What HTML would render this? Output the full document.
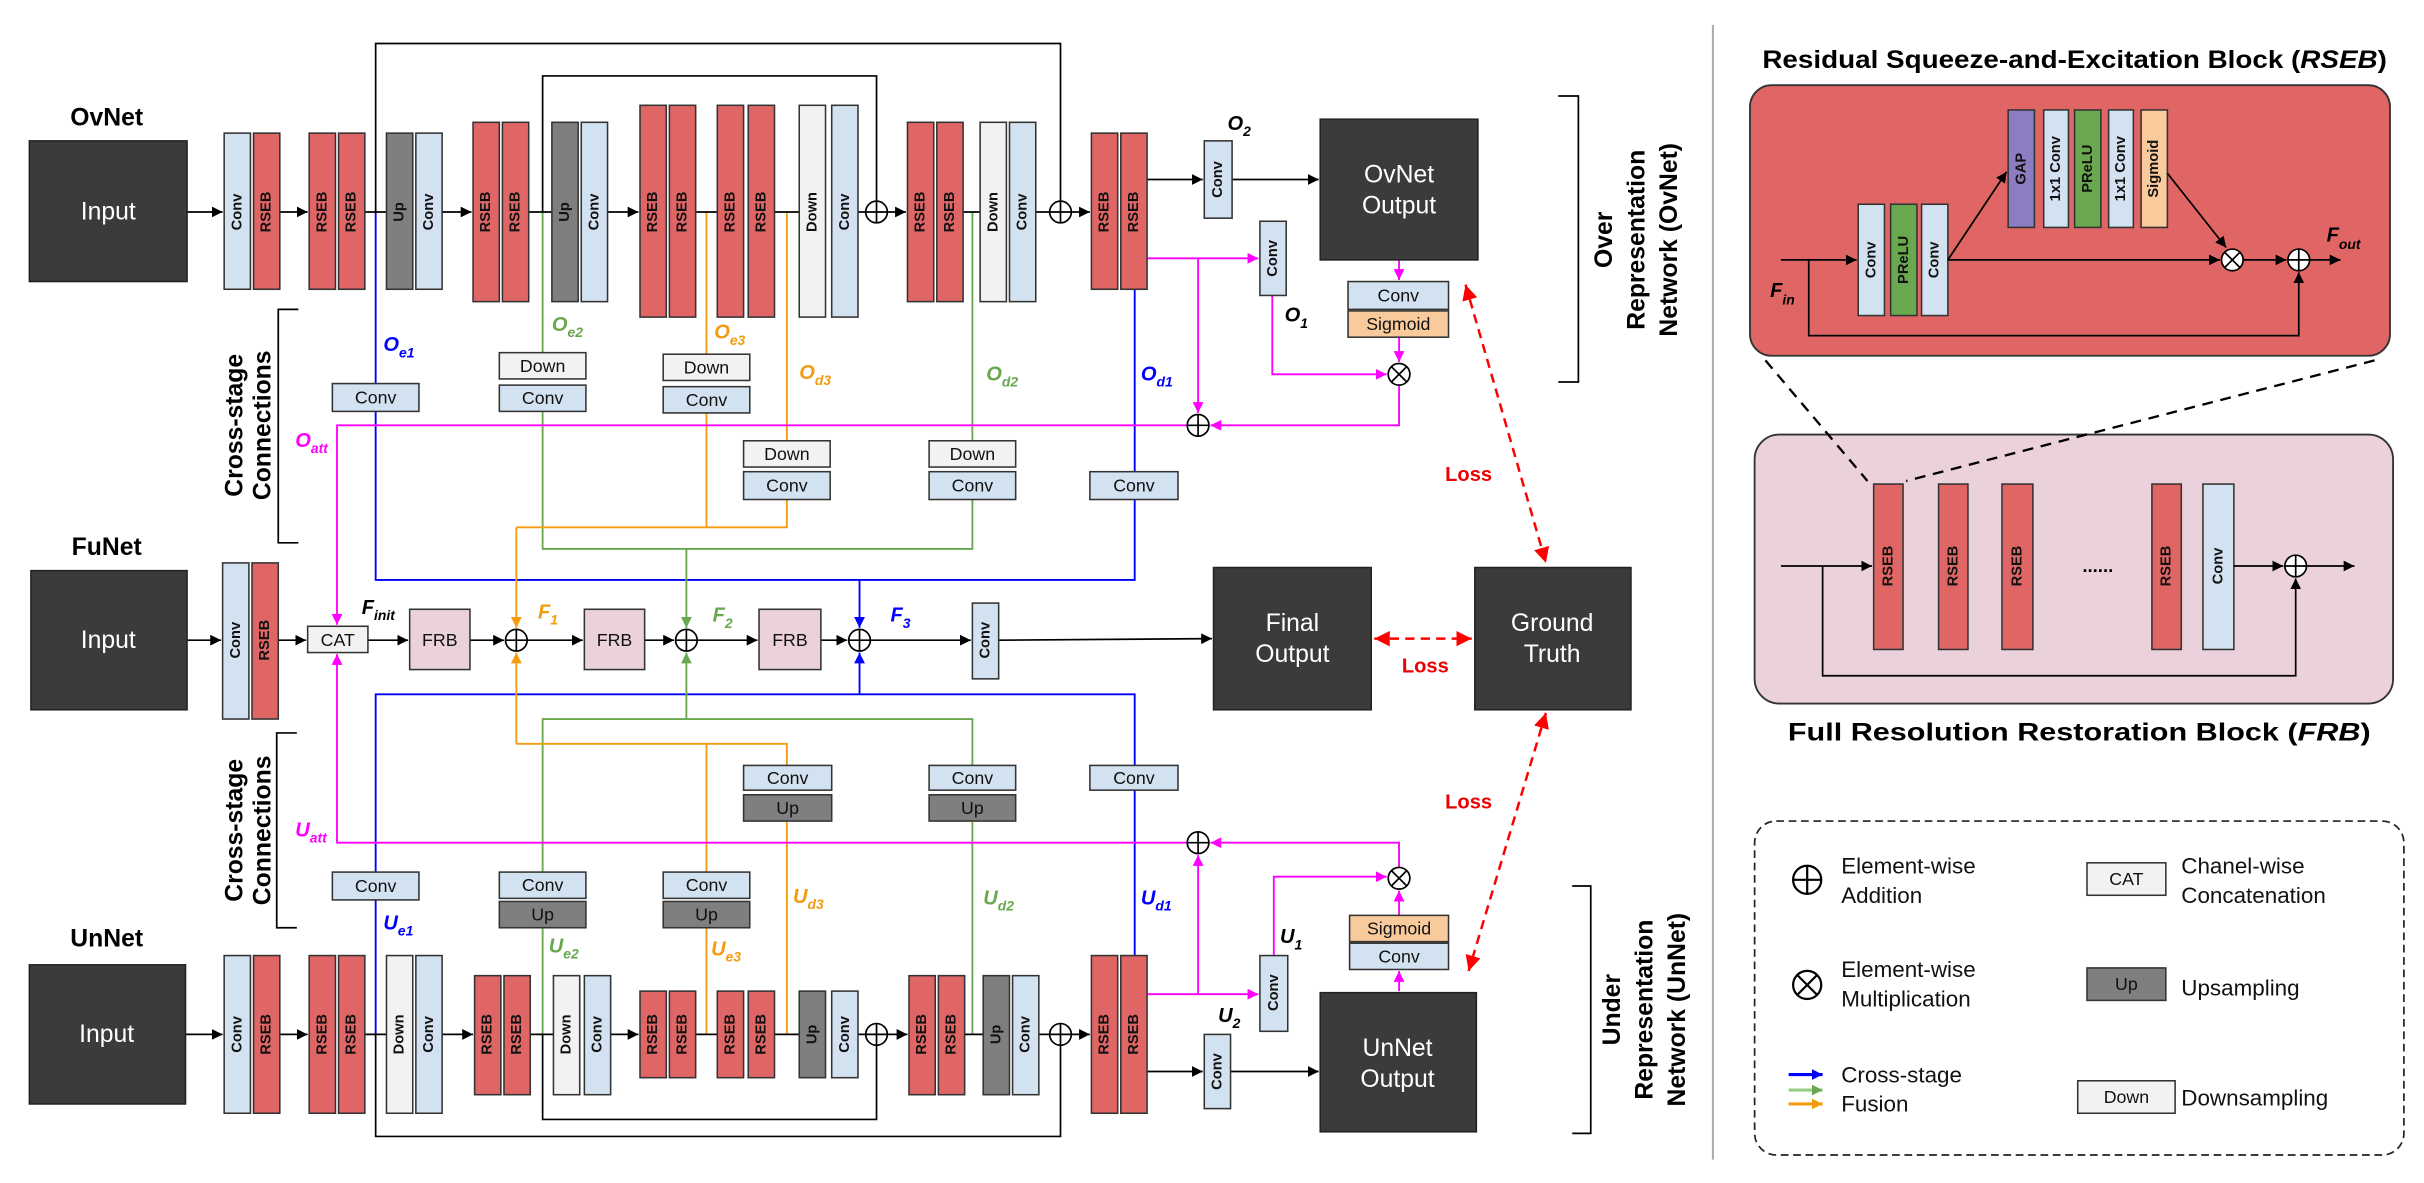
<!DOCTYPE html>
<html><head><meta charset="utf-8"><style>
html,body{margin:0;padding:0;background:#fff}
svg{display:block}
text{font-family:"Liberation Sans",Arial,sans-serif}
.c{fill:#d3e2f0;stroke:#333;stroke-width:1}
.r{fill:#e06666;stroke:#333;stroke-width:1}
.u{fill:#7f7f7f;stroke:#333;stroke-width:1}
.d{fill:#f2f2f2;stroke:#333;stroke-width:1}
.s{fill:#f9cb9c;stroke:#333;stroke-width:1}
.g{fill:#6aa84f;stroke:#333;stroke-width:1}
.p{fill:#8e7cc3;stroke:#333;stroke-width:1}
.f{fill:#ead1dc;stroke:#333;stroke-width:1}
.dk{fill:#3b3b3b;stroke:#222;stroke-width:1}
.vt{font-weight:bold;font-size:9.5px;text-anchor:middle;dominant-baseline:central;fill:#111}
.ht{font-size:11.5px;text-anchor:middle;dominant-baseline:central;fill:#111}
.wt{font-size:16px;text-anchor:middle;fill:#fff}
.lb{font-weight:bold;font-style:italic;font-size:13px}
.lb tspan{font-size:9px}
.ln{fill:none;stroke:#000;stroke-width:1.1}
.m{fill:none;stroke:#ff00ff;stroke-width:1.2}
.o{fill:none;stroke:#f39c12;stroke-width:1.2}
.gr{fill:none;stroke:#6aa84f;stroke-width:1.2}
.b{fill:none;stroke:#0000ff;stroke-width:1.2}
.big{font-weight:bold;font-size:16px;text-anchor:middle}
.lg{font-size:14.5px;fill:#111}
</style></head><body>
<svg width="2424" height="1183" viewBox="0 0 1568 765" xmlns="http://www.w3.org/2000/svg">
<defs>
<marker id="ak" viewBox="0 0 10 10" refX="10" refY="5" markerWidth="7" markerHeight="7" markerUnits="userSpaceOnUse" orient="auto"><path d="M0,0L10,5L0,10z" fill="#000"/></marker>
<marker id="am" viewBox="0 0 10 10" refX="10" refY="5" markerWidth="7" markerHeight="7" markerUnits="userSpaceOnUse" orient="auto"><path d="M0,0L10,5L0,10z" fill="#ff00ff"/></marker>
<marker id="ao" viewBox="0 0 10 10" refX="10" refY="5" markerWidth="7" markerHeight="7" markerUnits="userSpaceOnUse" orient="auto"><path d="M0,0L10,5L0,10z" fill="#f39c12"/></marker>
<marker id="ag" viewBox="0 0 10 10" refX="10" refY="5" markerWidth="7" markerHeight="7" markerUnits="userSpaceOnUse" orient="auto"><path d="M0,0L10,5L0,10z" fill="#6aa84f"/></marker>
<marker id="ab" viewBox="0 0 10 10" refX="10" refY="5" markerWidth="7" markerHeight="7" markerUnits="userSpaceOnUse" orient="auto"><path d="M0,0L10,5L0,10z" fill="#0000ff"/></marker>
<marker id="ar" viewBox="0 0 10 10" refX="10" refY="5" markerWidth="10" markerHeight="10" markerUnits="userSpaceOnUse" orient="auto-start-reverse"><path d="M0,0L10,5L0,10z" fill="#ff0000"/></marker>
<g id="plus"><circle r="7" fill="#fff" stroke="#000" stroke-width="1.1"/><path d="M-7,0H7M0,-7V7" stroke="#000" stroke-width="1.1"/></g>
<g id="times"><circle r="7" fill="#fff" stroke="#000" stroke-width="1.1"/><path d="M-5,-5L5,5M5,-5L-5,5" stroke="#000" stroke-width="1.1"/></g>
</defs>

<path class="ln" d="M243,137V28H686V130"/>
<path class="ln" d="M351,137V49H567V130"/>
<path class="ln" d="M243,669V735H686V676"/>
<path class="ln" d="M351,669V724H567V676"/>

<path class="b" d="M243,137V248M243,266V375H734V323M734,305V187"/>
<path class="b" d="M556,375V406" marker-end="url(#ab)"/>
<path class="gr" d="M351,137V228M351,266V355H629V323M629,285V137"/>
<path class="gr" d="M444,355V406" marker-end="url(#ag)"/>
<path class="o" d="M457,137V229M457,266V341M509,137V285M509,323V341H334"/>
<path class="o" d="M334,341V406" marker-end="url(#ao)"/>
<path class="b" d="M243,669V582M243,564V449H734V495M734,511V618"/>
<path class="b" d="M556,449V422" marker-end="url(#ab)"/>
<path class="gr" d="M351,669V600M351,564V465H629V495M629,531V669"/>
<path class="gr" d="M444,465V422" marker-end="url(#ag)"/>
<path class="o" d="M457,669V600M457,564V481M509,669V531M509,495V481H334"/>
<path class="o" d="M334,481V422" marker-end="url(#ao)"/>

<path class="m" d="M769,275H218V404" marker-end="url(#am)"/>
<path class="m" d="M769,545H218V423" marker-end="url(#am)"/>
<path class="m" d="M742,167H814" marker-end="url(#am)"/>
<path class="m" d="M775,167V267" marker-end="url(#am)"/>
<path class="m" d="M823,191V242H897" marker-end="url(#am)"/>
<path class="m" d="M905,168V181" marker-end="url(#am)"/>
<path class="m" d="M905,218V234" marker-end="url(#am)"/>
<path class="m" d="M905,249V275H783" marker-end="url(#am)"/>
<path class="m" d="M742,643H814" marker-end="url(#am)"/>
<path class="m" d="M775,643V553" marker-end="url(#am)"/>
<path class="m" d="M824,618V567H897" marker-end="url(#am)"/>
<path class="m" d="M905,641V628" marker-end="url(#am)"/>
<path class="m" d="M905,592V576" marker-end="url(#am)"/>
<path class="m" d="M905,561V545H783" marker-end="url(#am)"/>

<g class="ln">
<path d="M121,137H144" marker-end="url(#ak)"/>
<path d="M181,137H199" marker-end="url(#ak)"/>
<path d="M236,137H250M286,137H305" marker-end="url(#ak)"/>
<path d="M342,137H357M393,137H413" marker-end="url(#ak)"/>
<path d="M450,137H464M500,137H517M554,137H560"/>
<path d="M574,137H586" marker-end="url(#ak)"/>
<path d="M623,137H634M670,137H679"/>
<path d="M693,137H705" marker-end="url(#ak)"/>
<path d="M742,116H778" marker-end="url(#ak)"/>
<path d="M797,116H853" marker-end="url(#ak)"/>
<path d="M120,669H144" marker-end="url(#ak)"/>
<path d="M181,669H199" marker-end="url(#ak)"/>
<path d="M236,669H250M286,669H306" marker-end="url(#ak)"/>
<path d="M343,669H358M395,669H413" marker-end="url(#ak)"/>
<path d="M450,669H464M500,669H517M554,669H560"/>
<path d="M574,669H587" marker-end="url(#ak)"/>
<path d="M624,669H636M672,669H679"/>
<path d="M693,669H705" marker-end="url(#ak)"/>
<path d="M742,693H778" marker-end="url(#ak)"/>
<path d="M796,693H853" marker-end="url(#ak)"/>
<path d="M121,414H143" marker-end="url(#ak)"/>
<path d="M180,414H198" marker-end="url(#ak)"/>
<path d="M238,414H264" marker-end="url(#ak)"/>
<path d="M304,414H326" marker-end="url(#ak)"/>
<path d="M341,414H377" marker-end="url(#ak)"/>
<path d="M417,414H436" marker-end="url(#ak)"/>
<path d="M451,414H490" marker-end="url(#ak)"/>
<path d="M531,414H548" marker-end="url(#ak)"/>
<path d="M563,414H628" marker-end="url(#ak)"/>
<path d="M646,414L784,413" marker-end="url(#ak)"/>
</g>

<g>
<rect class="c" x="145" y="86" width="17" height="101"/><text class="vt" transform="translate(153.5,137) rotate(-90)">Conv</text>
<rect class="r" x="164" y="86" width="17" height="101"/><text class="vt" transform="translate(172.5,137) rotate(-90)">RSEB</text>
<rect class="r" x="200" y="86" width="17" height="101"/><text class="vt" transform="translate(208.5,137) rotate(-90)">RSEB</text>
<rect class="r" x="219" y="86" width="17" height="101"/><text class="vt" transform="translate(227.5,137) rotate(-90)">RSEB</text>
<rect class="u" x="250" y="86" width="17" height="101"/><text class="vt" transform="translate(258.5,137) rotate(-90)">Up</text>
<rect class="c" x="269" y="86" width="17" height="101"/><text class="vt" transform="translate(277.5,137) rotate(-90)">Conv</text>
<rect class="r" x="306" y="79" width="17" height="116"/><text class="vt" transform="translate(314.5,137) rotate(-90)">RSEB</text>
<rect class="r" x="325" y="79" width="17" height="116"/><text class="vt" transform="translate(333.5,137) rotate(-90)">RSEB</text>
<rect class="u" x="357" y="79" width="17" height="116"/><text class="vt" transform="translate(365.5,137) rotate(-90)">Up</text>
<rect class="c" x="376" y="79" width="17" height="116"/><text class="vt" transform="translate(384.5,137) rotate(-90)">Conv</text>
<rect class="r" x="414" y="68" width="17" height="137"/><text class="vt" transform="translate(422.5,137) rotate(-90)">RSEB</text>
<rect class="r" x="433" y="68" width="17" height="137"/><text class="vt" transform="translate(441.5,137) rotate(-90)">RSEB</text>
<rect class="r" x="464" y="68" width="17" height="137"/><text class="vt" transform="translate(472.5,137) rotate(-90)">RSEB</text>
<rect class="r" x="484" y="68" width="17" height="137"/><text class="vt" transform="translate(492.5,137) rotate(-90)">RSEB</text>
<rect class="d" x="517" y="68" width="17" height="137"/><text class="vt" transform="translate(525.5,137) rotate(-90)">Down</text>
<rect class="c" x="538" y="68" width="17" height="137"/><text class="vt" transform="translate(546.5,137) rotate(-90)">Conv</text>
<rect class="r" x="587" y="79" width="17" height="116"/><text class="vt" transform="translate(595.5,137) rotate(-90)">RSEB</text>
<rect class="r" x="606" y="79" width="17" height="116"/><text class="vt" transform="translate(614.5,137) rotate(-90)">RSEB</text>
<rect class="d" x="634" y="79" width="17" height="116"/><text class="vt" transform="translate(642.5,137) rotate(-90)">Down</text>
<rect class="c" x="653" y="79" width="17" height="116"/><text class="vt" transform="translate(661.5,137) rotate(-90)">Conv</text>
<rect class="r" x="706" y="86" width="17" height="101"/><text class="vt" transform="translate(714.5,137) rotate(-90)">RSEB</text>
<rect class="r" x="725" y="86" width="17" height="101"/><text class="vt" transform="translate(733.5,137) rotate(-90)">RSEB</text>
<use href="#plus" x="567" y="137"/><use href="#plus" x="686" y="137"/>
<rect class="c" x="779" y="91" width="18" height="50"/><text class="vt" transform="translate(788,116) rotate(-90)">Conv</text>
<rect class="c" x="815" y="143" width="17" height="48"/><text class="vt" transform="translate(823.5,167) rotate(-90)">Conv</text>
</g>

<g>
<rect class="c" x="145" y="618" width="17" height="102"/><text class="vt" transform="translate(153.5,669) rotate(-90)">Conv</text>
<rect class="r" x="164" y="618" width="17" height="102"/><text class="vt" transform="translate(172.5,669) rotate(-90)">RSEB</text>
<rect class="r" x="200" y="618" width="17" height="102"/><text class="vt" transform="translate(208.5,669) rotate(-90)">RSEB</text>
<rect class="r" x="219" y="618" width="17" height="102"/><text class="vt" transform="translate(227.5,669) rotate(-90)">RSEB</text>
<rect class="d" x="250" y="618" width="17" height="102"/><text class="vt" transform="translate(258.5,669) rotate(-90)">Down</text>
<rect class="c" x="269" y="618" width="17" height="102"/><text class="vt" transform="translate(277.5,669) rotate(-90)">Conv</text>
<rect class="r" x="307" y="631" width="17" height="77"/><text class="vt" transform="translate(315.5,669) rotate(-90)">RSEB</text>
<rect class="r" x="326" y="631" width="17" height="77"/><text class="vt" transform="translate(334.5,669) rotate(-90)">RSEB</text>
<rect class="d" x="358" y="631" width="17" height="77"/><text class="vt" transform="translate(366.5,669) rotate(-90)">Down</text>
<rect class="c" x="378" y="631" width="17" height="77"/><text class="vt" transform="translate(386.5,669) rotate(-90)">Conv</text>
<rect class="r" x="414" y="641" width="17" height="56"/><text class="vt" transform="translate(422.5,669) rotate(-90)">RSEB</text>
<rect class="r" x="433" y="641" width="17" height="56"/><text class="vt" transform="translate(441.5,669) rotate(-90)">RSEB</text>
<rect class="r" x="464" y="641" width="17" height="56"/><text class="vt" transform="translate(472.5,669) rotate(-90)">RSEB</text>
<rect class="r" x="484" y="641" width="17" height="56"/><text class="vt" transform="translate(492.5,669) rotate(-90)">RSEB</text>
<rect class="u" x="517" y="641" width="17" height="56"/><text class="vt" transform="translate(525.5,669) rotate(-90)">Up</text>
<rect class="c" x="538" y="641" width="17" height="56"/><text class="vt" transform="translate(546.5,669) rotate(-90)">Conv</text>
<rect class="r" x="588" y="631" width="17" height="77"/><text class="vt" transform="translate(596.5,669) rotate(-90)">RSEB</text>
<rect class="r" x="607" y="631" width="17" height="77"/><text class="vt" transform="translate(615.5,669) rotate(-90)">RSEB</text>
<rect class="u" x="636" y="631" width="17" height="77"/><text class="vt" transform="translate(644.5,669) rotate(-90)">Up</text>
<rect class="c" x="655" y="631" width="17" height="77"/><text class="vt" transform="translate(663.5,669) rotate(-90)">Conv</text>
<rect class="r" x="706" y="618" width="17" height="102"/><text class="vt" transform="translate(714.5,669) rotate(-90)">RSEB</text>
<rect class="r" x="725" y="618" width="17" height="102"/><text class="vt" transform="translate(733.5,669) rotate(-90)">RSEB</text>
<use href="#plus" x="567" y="669"/><use href="#plus" x="686" y="669"/>
<rect class="c" x="815" y="618" width="18" height="49"/><text class="vt" transform="translate(824,642) rotate(-90)">Conv</text>
<rect class="c" x="779" y="669" width="17" height="48"/><text class="vt" transform="translate(787.5,693) rotate(-90)">Conv</text>
</g>

<rect class="c" x="144" y="364" width="17" height="101"/><text class="vt" transform="translate(152.5,414) rotate(-90)">Conv</text>
<rect class="r" x="163" y="364" width="17" height="101"/><text class="vt" transform="translate(171.5,414) rotate(-90)">RSEB</text>
<rect class="d" x="199" y="405" width="39" height="17"/><text class="ht" x="218.5" y="414">CAT</text>
<rect class="f" x="265" y="394" width="39" height="39"/><text class="ht" x="284.5" y="414">FRB</text>
<rect class="f" x="378" y="394" width="39" height="39"/><text class="ht" x="397.5" y="414">FRB</text>
<rect class="f" x="491" y="394" width="40" height="39"/><text class="ht" x="511" y="414">FRB</text>
<use href="#plus" x="334" y="414"/><use href="#plus" x="444" y="414"/><use href="#plus" x="556" y="414"/>
<rect class="c" x="629" y="390" width="17" height="49"/><text class="vt" transform="translate(637.5,414) rotate(-90)">Conv</text>

<rect class="c" x="215" y="248" width="56" height="18"/><text class="ht" x="243" y="257">Conv</text>
<rect class="d" x="323" y="228" width="56" height="17"/><text class="ht" x="351" y="236.5">Down</text>
<rect class="c" x="323" y="249" width="56" height="17"/><text class="ht" x="351" y="257.5">Conv</text>
<rect class="d" x="429" y="229" width="56" height="17"/><text class="ht" x="457" y="237.5">Down</text>
<rect class="c" x="429" y="250" width="56" height="17"/><text class="ht" x="457" y="258.5">Conv</text>
<rect class="d" x="481" y="285" width="56" height="17"/><text class="ht" x="509" y="293.5">Down</text>
<rect class="c" x="481" y="305" width="56" height="18"/><text class="ht" x="509" y="314">Conv</text>
<rect class="d" x="601" y="285" width="56" height="17"/><text class="ht" x="629" y="293.5">Down</text>
<rect class="c" x="601" y="305" width="56" height="18"/><text class="ht" x="629" y="314">Conv</text>
<rect class="c" x="705" y="305" width="57" height="18"/><text class="ht" x="733.5" y="314">Conv</text>
<rect class="c" x="481" y="495" width="57" height="16"/><text class="ht" x="509.5" y="503">Conv</text>
<rect class="u" x="481" y="514" width="57" height="17"/><text class="ht" x="509.5" y="522.5">Up</text>
<rect class="c" x="601" y="495" width="56" height="16"/><text class="ht" x="629" y="503">Conv</text>
<rect class="u" x="601" y="514" width="56" height="17"/><text class="ht" x="629" y="522.5">Up</text>
<rect class="c" x="705" y="495" width="57" height="16"/><text class="ht" x="733.5" y="503">Conv</text>
<rect class="c" x="215" y="564" width="56" height="18"/><text class="ht" x="243" y="573">Conv</text>
<rect class="c" x="323" y="564" width="56" height="17"/><text class="ht" x="351" y="572.5">Conv</text>
<rect class="u" x="323" y="583" width="56" height="17"/><text class="ht" x="351" y="591.5">Up</text>
<rect class="c" x="429" y="564" width="56" height="17"/><text class="ht" x="457" y="572.5">Conv</text>
<rect class="u" x="429" y="583" width="56" height="17"/><text class="ht" x="457" y="591.5">Up</text>

<rect class="c" x="872" y="182" width="65" height="18"/><text class="ht" x="904.5" y="191">Conv</text>
<rect class="s" x="872" y="201" width="65" height="17"/><text class="ht" x="904.5" y="209.5">Sigmoid</text>
<use href="#times" x="905" y="242"/><use href="#plus" x="775" y="275"/>
<rect class="s" x="873" y="592" width="64" height="17"/><text class="ht" x="905" y="600.5">Sigmoid</text>
<rect class="c" x="873" y="610" width="64" height="17"/><text class="ht" x="905" y="618.5">Conv</text>
<use href="#times" x="905" y="568"/><use href="#plus" x="775" y="545"/>

<rect class="dk" x="19" y="91" width="102" height="91"/><text class="wt" x="70" y="142">Input</text>
<rect class="dk" x="20" y="369" width="101" height="90"/><text class="wt" x="70" y="419">Input</text>
<rect class="dk" x="19" y="624" width="101" height="90"/><text class="wt" x="69" y="674">Input</text>
<rect class="dk" x="854" y="77" width="102" height="91"/><text class="wt" x="905" y="118">OvNet</text><text class="wt" x="905" y="138">Output</text>
<rect class="dk" x="785" y="367" width="102" height="92"/><text class="wt" x="836" y="408">Final</text><text class="wt" x="836" y="428">Output</text>
<rect class="dk" x="954" y="367" width="101" height="92"/><text class="wt" x="1004" y="408">Ground</text><text class="wt" x="1004" y="428">Truth</text>
<rect class="dk" x="854" y="642" width="101" height="90"/><text class="wt" x="904" y="683">UnNet</text><text class="wt" x="904" y="703">Output</text>

<text class="big" x="69" y="81" font-size="17">OvNet</text>
<text class="big" x="69" y="359" font-size="17">FuNet</text>
<text class="big" x="69" y="612" font-size="17">UnNet</text>

<g stroke="#ff0000" stroke-width="1.6" stroke-dasharray="6,4" fill="none">
<path d="M948,184L1000,364" marker-start="url(#ar)" marker-end="url(#ar)"/>
<path d="M889,413H952" marker-start="url(#ar)" marker-end="url(#ar)"/>
<path d="M1000,461L950,628" marker-start="url(#ar)" marker-end="url(#ar)"/>
</g>
<text x="950" y="311" font-size="13" font-weight="bold" fill="#ee0000" text-anchor="middle">Loss</text>
<text x="922" y="435" font-size="13" font-weight="bold" fill="#ee0000" text-anchor="middle">Loss</text>
<text x="950" y="523" font-size="13" font-weight="bold" fill="#ee0000" text-anchor="middle">Loss</text>

<text class="lb" x="248" y="227" fill="#0000ff">O<tspan dy="4">e1</tspan></text>
<text class="lb" x="357" y="214" fill="#6aa84f">O<tspan dy="4">e2</tspan></text>
<text class="lb" x="462" y="219" fill="#f39c12">O<tspan dy="4">e3</tspan></text>
<text class="lb" x="517" y="245" fill="#f39c12">O<tspan dy="4">d3</tspan></text>
<text class="lb" x="638" y="246" fill="#6aa84f">O<tspan dy="4">d2</tspan></text>
<text class="lb" x="738" y="246" fill="#0000ff">O<tspan dy="4">d1</tspan></text>
<text class="lb" x="191" y="289" fill="#ff00ff">O<tspan dy="4">att</tspan></text>
<text class="lb" x="794" y="84" fill="#000">O<tspan dy="4">2</tspan></text>
<text class="lb" x="831" y="208" fill="#000">O<tspan dy="4">1</tspan></text>
<text class="lb" x="248" y="601" fill="#0000ff">U<tspan dy="4">e1</tspan></text>
<text class="lb" x="355" y="616" fill="#6aa84f">U<tspan dy="4">e2</tspan></text>
<text class="lb" x="460" y="618" fill="#f39c12">U<tspan dy="4">e3</tspan></text>
<text class="lb" x="513" y="584" fill="#f39c12">U<tspan dy="4">d3</tspan></text>
<text class="lb" x="636" y="585" fill="#6aa84f">U<tspan dy="4">d2</tspan></text>
<text class="lb" x="738" y="585" fill="#0000ff">U<tspan dy="4">d1</tspan></text>
<text class="lb" x="191" y="541" fill="#ff00ff">U<tspan dy="4">att</tspan></text>
<text class="lb" x="828" y="610" fill="#000">U<tspan dy="4">1</tspan></text>
<text class="lb" x="788" y="661" fill="#000">U<tspan dy="4">2</tspan></text>
<text class="lb" x="234" y="397" fill="#000">F<tspan dy="4">init</tspan></text>
<text class="lb" x="348" y="400" fill="#f39c12">F<tspan dy="4">1</tspan></text>
<text class="lb" x="461" y="402" fill="#6aa84f">F<tspan dy="4">2</tspan></text>
<text class="lb" x="576" y="402" fill="#0000ff">F<tspan dy="4">3</tspan></text>

<path class="ln" stroke-width="1.5" d="M193,200H180V351H193"/>
<path class="ln" stroke-width="1.5" d="M192,474H179V600H192"/>
<text class="big" transform="translate(152,275) rotate(-90)" dominant-baseline="central">Cross-stage</text>
<text class="big" transform="translate(170,275) rotate(-90)" dominant-baseline="central">Connections</text>
<text class="big" transform="translate(152,537) rotate(-90)" dominant-baseline="central">Cross-stage</text>
<text class="big" transform="translate(170,537) rotate(-90)" dominant-baseline="central">Connections</text>
<path class="ln" stroke-width="1.5" d="M1008,62H1021V247H1008"/>
<path class="ln" stroke-width="1.5" d="M1017,573H1029V733H1017"/>
<text class="big" transform="translate(1038,155) rotate(-90)" dominant-baseline="central">Over</text>
<text class="big" transform="translate(1059,155) rotate(-90)" dominant-baseline="central">Representation</text>
<text class="big" transform="translate(1080,155) rotate(-90)" dominant-baseline="central">Network (OvNet)</text>
<text class="big" transform="translate(1043,653) rotate(-90)" dominant-baseline="central">Under</text>
<text class="big" transform="translate(1064,653) rotate(-90)" dominant-baseline="central">Representation</text>
<text class="big" transform="translate(1085,653) rotate(-90)" dominant-baseline="central">Network (UnNet)</text>

<line x1="1108" y1="16" x2="1108" y2="750" stroke="#aaa" stroke-width="1.3"/>

<!-- RSEB panel -->
<text x="1342" y="44" font-size="16" font-weight="bold" text-anchor="middle" textLength="404" lengthAdjust="spacingAndGlyphs">Residual Squeeze-and-Excitation Block (<tspan font-style="italic">RSEB</tspan>)</text>
<rect x="1132" y="55" width="414" height="175" rx="14" fill="#e06666" stroke="#333" stroke-width="1.2"/>
<rect class="c" x="1202" y="132" width="17" height="72"/><text class="vt" transform="translate(1210.5,168) rotate(-90)">Conv</text>
<rect class="g" x="1223" y="132" width="17" height="72"/><text class="vt" transform="translate(1231.5,168) rotate(-90)">PReLU</text>
<rect class="c" x="1243" y="132" width="17" height="72"/><text class="vt" transform="translate(1251.5,168) rotate(-90)">Conv</text>
<rect class="p" x="1299" y="71" width="17" height="76"/><text class="vt" transform="translate(1307.5,109) rotate(-90)">GAP</text>
<rect class="c" x="1322" y="71" width="16" height="76"/><text class="vt" transform="translate(1330,109) rotate(-90)">1x1 Conv</text>
<rect class="g" x="1342" y="71" width="17" height="76"/><text class="vt" transform="translate(1350.5,109) rotate(-90)">PReLU</text>
<rect class="c" x="1364" y="71" width="16" height="76"/><text class="vt" transform="translate(1372,109) rotate(-90)">1x1 Conv</text>
<rect class="s" x="1385" y="71" width="17" height="76"/><text class="vt" transform="translate(1393.5,109) rotate(-90)">Sigmoid</text>
<g class="ln">
<path d="M1152,168H1201" marker-end="url(#ak)"/>
<path d="M1260,168L1298,111" marker-end="url(#ak)"/>
<path d="M1260,168H1436" marker-end="url(#ak)"/>
<path d="M1402,112L1440,160" marker-end="url(#ak)"/>
<path d="M1451,168H1479" marker-end="url(#ak)"/>
<path d="M1494,168H1514" marker-end="url(#ak)"/>
<path d="M1170,168V217H1487V176" marker-end="url(#ak)"/>
</g>
<use href="#times" x="1444" y="168"/><use href="#plus" x="1487" y="168"/>
<text class="lb" x="1145" y="192" font-size="15">F<tspan dy="5" font-size="10">in</tspan></text>
<text class="lb" x="1505" y="156" font-size="15">F<tspan dy="5" font-size="10">out</tspan></text>

<!-- FRB panel -->
<rect x="1135" y="281" width="413" height="174" rx="16" fill="#ead1dc" stroke="#333" stroke-width="1.2"/>
<path d="M1142,233L1208,311M1536,233L1233,311" stroke="#000" stroke-width="1.5" stroke-dasharray="7,5" fill="none"/>
<rect class="r" x="1212" y="313" width="19" height="107"/><text class="vt" transform="translate(1221.5,366) rotate(-90)">RSEB</text>
<rect class="r" x="1254" y="313" width="19" height="107"/><text class="vt" transform="translate(1263.5,366) rotate(-90)">RSEB</text>
<rect class="r" x="1295" y="313" width="20" height="107"/><text class="vt" transform="translate(1305,366) rotate(-90)">RSEB</text>
<rect class="r" x="1392" y="313" width="19" height="107"/><text class="vt" transform="translate(1401.5,366) rotate(-90)">RSEB</text>
<rect class="c" x="1425" y="313" width="20" height="107"/><text class="vt" transform="translate(1435,366) rotate(-90)">Conv</text>
<text x="1357" y="370" font-size="12" font-weight="bold" text-anchor="middle">......</text>
<g class="ln">
<path d="M1152,366H1211" marker-end="url(#ak)"/>
<path d="M1445,366H1477" marker-end="url(#ak)"/>
<path d="M1492,366H1523" marker-end="url(#ak)"/>
<path d="M1179,366V437H1485V374" marker-end="url(#ak)"/>
</g>
<use href="#plus" x="1485" y="366"/>
<text x="1345" y="479" font-size="16" font-weight="bold" text-anchor="middle" textLength="377" lengthAdjust="spacingAndGlyphs">Full Resolution Restoration Block (<tspan font-style="italic">FRB</tspan>)</text>

<!-- Legend -->
<rect x="1135" y="531" width="420" height="216" rx="14" fill="none" stroke="#222" stroke-width="1.1" stroke-dasharray="5,3"/>
<use href="#plus" x="1169" y="569" transform="translate(1169,569) scale(1.3) translate(-1169,-569)"/>
<text class="lg" x="1191" y="565">Element-wise</text><text class="lg" x="1191" y="584">Addition</text>
<rect class="d" x="1350" y="558" width="51" height="21"/><text class="ht" x="1375.5" y="568.5" font-size="12">CAT</text>
<text class="lg" x="1411" y="565">Chanel-wise</text><text class="lg" x="1411" y="584">Concatenation</text>
<use href="#times" x="1169" y="637" transform="translate(1169,637) scale(1.3) translate(-1169,-637)"/>
<text class="lg" x="1191" y="632">Element-wise</text><text class="lg" x="1191" y="651">Multiplication</text>
<rect class="u" x="1350" y="626" width="51" height="21"/><text class="ht" x="1375.5" y="636.5" font-size="12">Up</text>
<text class="lg" x="1411" y="644">Upsampling</text>
<path d="M1157,695H1179" stroke="#0000ff" stroke-width="2" marker-end="url(#ab)"/>
<path d="M1157,705H1179" stroke="#99cc88" stroke-width="2" marker-end="url(#ag)"/>
<path d="M1157,714H1179" stroke="#f39c12" stroke-width="2" marker-end="url(#ao)"/>
<text class="lg" x="1191" y="700">Cross-stage</text><text class="lg" x="1191" y="719">Fusion</text>
<rect class="d" x="1344" y="699" width="63" height="21"/><text class="ht" x="1375.5" y="709.5" font-size="12">Down</text>
<text class="lg" x="1411" y="715">Downsampling</text>
</svg>
</body></html>
